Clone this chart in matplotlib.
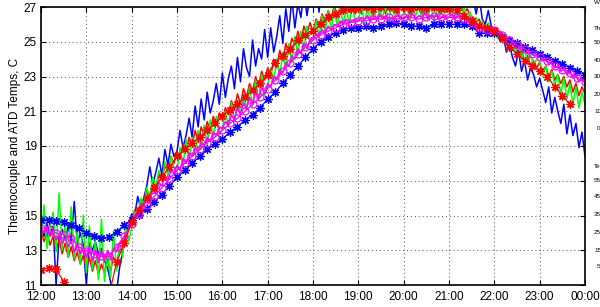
import numpy as np
import matplotlib
matplotlib.use('Agg')
import matplotlib.pyplot as plt

plt.rcParams['font.family'] = ['Liberation Sans', 'DejaVu Sans']

# --- data: temps (deg C) ---
# dense series every 4 minutes, 12:00 -> 00:00 (one row per hour + final point)
blue_raw = [
    14.3, 13.8, 14.5, 13.9, 14.4, 11.0, 13.8, 14.2, 13.6, 14.4, 13.5, 15.8, 13.4, 14.0, 13.3,
    11.0, 13.4, 13.0, 13.5, 12.8, 13.1, 12.4, 12.0, 11.2, 10.4, 10.6, 12.0, 12.9, 13.8, 14.4,
    15.1, 15.0, 16.1, 15.4, 16.0, 16.7, 17.8, 16.8, 17.5, 18.3, 17.3, 18.8, 17.9, 19.1, 18.4,
    18.7, 19.9, 18.9, 19.6, 20.6, 19.5, 21.3, 20.1, 21.7, 20.5, 22.1, 20.9, 21.6, 22.6, 21.4,
    23.2, 21.8, 22.9, 23.6, 22.3, 24.1, 22.7, 24.6, 23.5, 23.0, 25.1, 23.6, 24.6, 24.0, 25.7,
    24.1, 25.8, 24.4, 25.3, 26.5, 24.9, 26.9, 25.6, 27.5, 25.8, 27.2, 26.4, 27.9, 26.5, 27.6,
    27.0, 28.3, 26.7, 28.5, 27.5, 28.6, 27.8, 28.9, 27.7, 28.8, 28.1, 29.0, 28.3, 28.9, 28.4,
    28.6, 29.2, 28.5, 29.3, 28.8, 29.4, 28.7, 29.2, 28.9, 29.5, 28.8, 29.3, 29.0, 29.4, 28.8,
    29.1, 28.7, 29.3, 28.9, 29.2, 28.6, 29.0, 28.8, 29.1, 28.5, 28.9, 28.6, 28.8, 28.4, 28.7,
    28.3, 28.6, 28.1, 28.4, 27.9, 28.2, 27.7, 27.9, 27.4, 26.6, 27.6, 26.3, 26.0, 26.8, 25.9,
    25.7, 25.4, 25.0, 25.3, 24.4, 24.9, 24.1, 23.6, 24.5, 23.3, 23.9, 22.8, 23.5, 23.1, 22.4,
    22.9, 22.2, 21.5, 22.4, 20.9, 21.8, 21.0, 20.3, 21.4, 19.7, 20.8, 19.6, 20.3, 18.9, 19.8,
    18.4]

green_raw = [
    13.4, 15.6, 13.1, 14.3, 15.2, 12.9, 16.3, 13.0, 14.6, 12.6, 15.5, 12.5, 14.1, 12.2, 15.0,
    11.7, 14.4, 11.9, 13.6, 11.3, 14.8, 11.2, 12.9, 11.4, 14.1, 11.8, 13.2, 12.6, 14.5, 13.5,
    14.3, 15.2, 15.0, 16.0, 15.6, 16.6, 16.0, 17.2, 16.6, 17.6, 17.0, 18.1, 17.3, 18.4, 17.8,
    17.5, 18.9, 17.8, 19.4, 18.1, 19.5, 18.5, 19.9, 18.8, 20.2, 19.0, 20.5, 19.4, 20.7, 19.6,
    20.0, 21.0, 20.1, 21.5, 20.4, 21.6, 20.8, 22.0, 21.1, 22.4, 21.3, 22.8, 21.6, 23.1, 21.9,
    22.4, 23.5, 22.7, 24.0, 23.0, 24.4, 23.4, 24.9, 23.8, 25.3, 24.2, 25.6, 24.5, 25.9, 24.9,
    25.1, 26.2, 25.3, 26.5, 25.6, 26.8, 25.7, 26.9, 25.9, 27.1, 25.9, 27.0, 26.0, 27.2, 26.1,
    26.2, 27.1, 26.1, 26.9, 26.3, 27.2, 26.2, 26.8, 26.4, 27.1, 26.2, 27.0, 26.5, 27.2, 26.3,
    26.4, 27.1, 26.2, 26.9, 26.5, 27.2, 26.3, 27.0, 26.4, 27.1, 26.2, 26.9, 26.5, 27.2, 26.3,
    26.4, 27.0, 26.3, 26.9, 26.2, 27.1, 26.1, 26.7, 25.9, 26.4, 25.7, 26.2, 25.6, 26.1, 25.5,
    25.8, 25.2, 25.6, 24.9, 25.4, 24.7, 25.1, 24.3, 24.8, 24.0, 24.6, 23.8, 24.3, 23.6, 24.0,
    23.9, 23.0, 23.6, 22.7, 23.3, 22.5, 23.1, 22.0, 22.9, 21.7, 22.6, 21.4, 22.4, 21.2, 22.1,
    21.4]

red_raw = [
    14.1, 13.5, 14.0, 13.3, 13.8, 13.0, 13.6, 12.8, 13.4, 12.6, 13.2, 12.4, 12.9, 12.2, 12.7,
    12.0, 12.6, 11.8, 12.4, 11.6, 12.2, 11.7, 12.5, 11.8, 12.6, 12.2, 13.1, 12.9, 13.8, 14.2,
    14.7, 15.3, 15.0, 15.9, 15.6, 16.5, 16.0, 16.9, 16.5, 17.4, 17.0, 17.9, 17.5, 18.4, 18.0,
    18.7, 18.3, 19.1, 18.7, 19.5, 19.0, 19.9, 19.2, 20.1, 19.6, 20.4, 19.9, 20.7, 20.2, 20.9,
    20.5, 21.2, 20.8, 21.6, 21.1, 22.0, 21.4, 22.3, 21.8, 22.6, 22.1, 23.0, 22.4, 23.3, 22.8,
    23.5, 23.0, 24.0, 23.5, 24.5, 23.9, 24.9, 24.3, 25.2, 24.8, 25.6, 25.0, 25.9, 25.4, 26.1,
    25.6, 26.3, 25.9, 26.6, 26.1, 26.8, 26.3, 27.1, 26.5, 27.0, 26.6, 27.2, 26.7, 27.1, 26.6,
    27.0, 26.6, 27.2, 26.7, 27.1, 26.5, 27.3, 26.7, 27.0, 26.6, 27.2, 26.8, 27.1, 26.6, 27.2,
    26.7, 27.1, 26.6, 27.3, 26.8, 27.0, 26.6, 27.2, 26.7, 27.1, 26.8, 27.3, 26.6, 27.0, 26.7,
    27.2, 26.8, 27.1, 26.7, 27.0, 26.6, 26.9, 26.5, 26.4, 26.1, 26.3, 25.8, 26.0, 25.6, 25.9,
    25.5, 25.8, 25.2, 25.4, 24.9, 25.1, 24.5, 24.8, 24.2, 24.5, 23.9, 24.2, 23.6, 23.9, 23.5,
    23.8, 23.3, 23.6, 23.0, 23.4, 22.8, 23.1, 22.6, 23.0, 22.4, 22.8, 22.1, 22.6, 21.9, 22.4,
    22.0]

magenta_raw = [
    14.3, 14.0, 14.2, 13.8, 14.0, 13.6, 13.9, 13.4, 13.7, 13.2, 13.5, 12.9, 13.3, 12.8, 13.1,
    12.6, 13.2, 12.4, 13.0, 12.3, 12.9, 12.4, 13.0, 12.5, 13.1, 12.9, 13.4, 13.5, 13.9, 14.2,
    14.6, 15.0, 15.1, 15.6, 15.5, 16.1, 15.9, 16.5, 16.3, 16.9, 16.7, 17.3, 17.0, 17.6, 17.4,
    17.9, 17.6, 18.3, 18.0, 18.6, 18.4, 18.9, 18.7, 19.2, 19.0, 19.5, 19.3, 19.8, 19.6, 20.1,
    20.0, 20.4, 20.2, 20.8, 20.5, 21.2, 20.8, 21.5, 21.1, 21.8, 21.4, 22.1, 21.7, 22.4, 22.0,
    22.6, 22.4, 23.0, 22.8, 23.4, 23.2, 23.8, 23.6, 24.2, 24.0, 24.6, 24.3, 24.9, 24.6, 25.1,
    25.2, 25.4, 25.3, 25.7, 25.5, 25.9, 25.7, 26.0, 25.9, 26.2, 26.0, 26.3, 26.1, 26.2, 26.3,
    26.2, 26.4, 26.3, 26.5, 26.2, 26.4, 26.3, 26.6, 26.3, 26.5, 26.2, 26.4, 26.3, 26.6, 26.4,
    26.3, 26.5, 26.4, 26.6, 26.3, 26.5, 26.4, 26.7, 26.3, 26.5, 26.4, 26.6, 26.3, 26.5, 26.4,
    26.4, 26.6, 26.3, 26.5, 26.4, 26.6, 26.2, 26.4, 26.1, 26.0, 25.9, 25.8, 25.9, 25.7, 25.8,
    25.8, 25.5, 25.6, 25.3, 25.3, 25.0, 25.0, 24.7, 24.8, 24.5, 24.6, 24.3, 24.4, 24.2, 24.2,
    24.2, 23.9, 24.0, 23.7, 23.8, 23.5, 23.6, 23.3, 23.5, 23.1, 23.3, 22.9, 23.1, 22.7, 22.9,
    22.6]

# sparse series every 10 minutes, 12:00 -> 00:00
blue_star = [
    14.75, 14.75, 14.7, 14.6, 14.45, 14.3, 14.0, 13.8, 13.7, 13.75, 14.05, 14.45,
    14.75, 15.05, 15.4, 15.8, 16.2, 16.7, 17.2, 17.6, 18.0, 18.4, 18.8, 19.1,
    19.4, 19.8, 20.1, 20.5, 20.8, 21.2, 21.7, 22.1, 22.6, 23.1, 23.6, 24.1,
    24.6, 25.0, 25.3, 25.5, 25.7, 25.8, 25.8, 25.9, 25.8, 25.9, 26.0, 26.1,
    26.0, 25.9, 25.9, 25.8, 26.0, 26.0, 26.0, 26.0, 26.0, 25.9, 25.5, 25.5,
    25.5, 25.3, 25.1, 24.9, 24.7, 24.5, 24.3, 24.1, 23.9, 23.7, 23.5, 23.3,
    23.1]

magenta_circ = [
    14.3, 14.2, 14.0, 13.9, 13.7, 13.2, 12.95, 12.8, 12.65, 12.65, 13.2, 13.8,
    14.5, 15.1, 15.6, 16.1, 16.6, 17.1, 17.6, 18.0, 18.4, 18.8, 19.2, 19.5,
    19.9, 20.3, 20.6, 21.0, 21.4, 21.8, 22.3, 22.8, 23.3, 23.8, 24.3, 24.7,
    25.1, 25.4, 25.6, 25.8, 26.0, 26.1, 26.2, 26.2, 26.3, 26.3, 26.4, 26.3,
    26.4, 26.4, 26.3, 26.4, 26.5, 26.4, 26.4, 26.4, 26.3, 26.1, 25.8, 25.7,
    25.7, 25.4, 25.1, 24.8, 24.6, 24.3, 24.1, 23.9, 23.6, 23.4, 23.2, 22.9,
    22.7]

# red asterisk series stops at 23:40
red_star = [
    11.85, 12.0, 11.9, 11.2, 10.6, 10.2, 10.0, 9.9, 9.9, 10.4, 12.3, 13.4,
    14.6, 15.3, 16.0, 16.6, 17.2, 17.8, 18.4, 18.8, 19.2, 19.5, 19.9, 20.3,
    20.7, 21.1, 21.4, 21.8, 22.2, 22.6, 23.1, 23.8, 24.2, 24.6, 25.1, 25.4,
    25.6, 26.0, 26.4, 26.6, 26.8, 26.9, 26.95, 27.0, 26.9, 27.0, 27.0, 26.9,
    27.0, 26.9, 27.0, 26.95, 27.0, 26.9, 26.9, 26.8, 26.5, 26.2, 25.9, 25.8,
    25.6, 25.2, 24.7, 24.3, 23.9, 23.6, 23.3, 23.0, 22.4, 21.9, 21.4]

hour_ticks = list(range(12, 25))
hour_labels = ['%02d:00' % (h % 24) for h in hour_ticks]
temp_ticks = [11, 13, 15, 17, 19, 21, 23, 25, 27]

# time axes in hours
t_dense = np.linspace(12, 24, len(blue_raw))
t_sparse = np.linspace(12, 24, len(blue_star))

fig = plt.figure(figsize=(6.0, 3.07), dpi=100)
ax = fig.add_axes([41/600, 1 - 285/307, 544/600, 278/307])

lw = 1.1
ast = (8, 2, 0)
ax.plot(t_dense, blue_raw, color='#0000ff', lw=1.1)
ax.plot(t_dense, red_raw, color='#ff0000', lw=lw)
ax.plot(t_dense, green_raw, color='#00ff00', lw=lw)
ax.plot(t_dense, magenta_raw, color='#ff00ff', lw=lw)
ax.plot(t_sparse, blue_star, color='#0000ff', lw=0.9, marker=ast, ms=6, mew=0.9)
ax.plot(t_sparse, magenta_circ, color='#ff00ff', lw=0.9, marker='o', ms=5,
        mfc='none', mew=0.9)
ax.plot(t_sparse[:len(red_star)], red_star, color='#ff0000', lw=0.9, marker=ast,
        ms=6, mew=0.9)

ax.set_xlim(12, 24)
ax.set_ylim(11, 27)
ax.set_xticks(hour_ticks)
ax.set_xticklabels(hour_labels)
ax.set_yticks(temp_ticks)
ax.tick_params(direction='in', length=3.5, width=0.8, top=True, right=True,
               labelsize=8.5)
ax.tick_params(axis='x', pad=4.5)
ax.tick_params(axis='y', pad=3)
ax.grid(True, color='0.3', linestyle=(0, (1, 3)), linewidth=0.7)
for s in ax.spines.values():
    s.set_linewidth(1.2)

ax.set_ylabel('Thermocouple and ATD Temps, C', fontsize=8.5)
ax.yaxis.set_label_coords(-20/544, 0.5)

# bits of the neighbouring panel cut off at the right edge
side_txt = [('W', 2), ('Th', 28), ('50', 43), ('40', 60), ('30', 77), ('20', 94),
            ('10', 112), ('0', 129), ('Te', 167), ('55', 180), ('45', 197),
            ('35', 215), ('25', 233), ('15', 250), ('5', 267)]
for s, yp in side_txt:
    xp = 597 if len(s) == 1 and s.isdigit() else 594
    fig.text(xp/600, 1 - yp/307, s, fontsize=4.5, va='center', ha='left')

fig.savefig('out.png', dpi=100)
